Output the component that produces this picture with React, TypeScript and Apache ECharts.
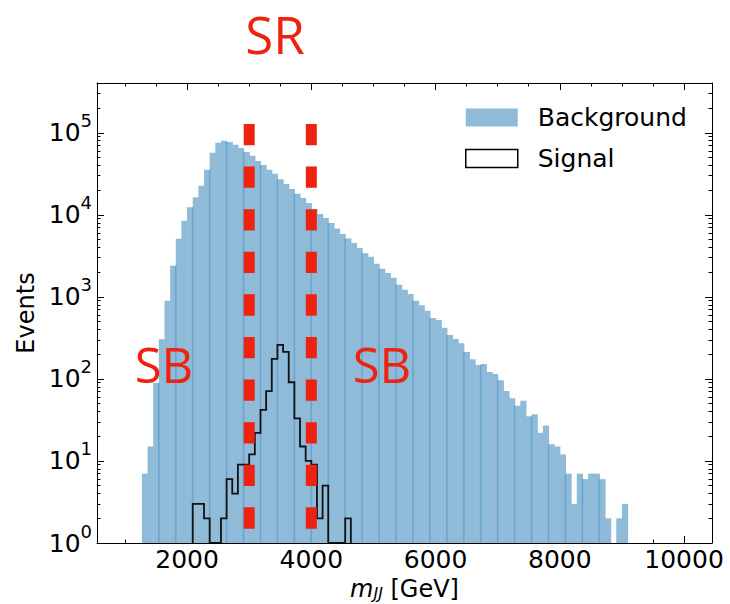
import React, { useEffect, useRef } from "react";
import * as echarts from "echarts";

// ---------- data ----------
const binLow = 1000;
const binHigh = 10000;
const binCount = 99;

// background histogram: counts of consecutive bins starting at bin index 3
const backgroundFirstBin = 3;
const backgroundCounts = [
  7, 15, 90, 305, 894, 2390, 5100, 8450, 12400, 16400,
  22600, 35400, 57000, 75500, 79800, 77000, 71400, 65000, 58200, 52500,
  45200, 40400, 35400, 31600, 27200, 23700, 20600, 18000, 16000, 13900,
  11700, 10200, 9120, 7920, 6790, 5830, 5130, 4530, 3940, 3410,
  3080, 2530, 2200, 1950, 1710, 1400, 1220, 1080, 894, 792,
  675, 554, 524, 419, 344, 307, 272, 213, 174, 148,
  152, 121, 115, 96, 71, 58, 47, 54, 35, 37,
  22, 27, 16, 15, 12, 7, 3, 7, 6, 7,
  7, 6, 2, 0, 2, 3,
];

// signal histogram: counts of consecutive bins starting at bin index 12
const signalFirstBin = 12;
const signalCounts = [
  3, 3, 2, 0, 0, 2, 6, 4, 9, 9, 12, 22, 42, 71, 175, 260, 213, 91, 33, 15,
  10, 9, 2, 5, 0, 0, 0, 2,
];

const srBoundaries = [3000, 4000];
const srLineTop = 1.28e5;

const xRange = [550, 10450];
const yRange = [1, 4.04e5];
const xMajorTicks = [2000, 4000, 6000, 8000, 10000];
const xMinorTicks = [1000, 1500, 2500, 3000, 3500, 4500, 5000, 5500, 6500, 7000, 7500, 8500, 9000, 9500];
const yMajorTicks = [1, 10, 100, 1000, 10000, 100000];
const yMinorTicks = [
  2, 3, 4, 5, 6, 7, 8, 9,
  20, 30, 40, 50, 60, 70, 80, 90,
  200, 300, 400, 500, 600, 700, 800, 900,
  2000, 3000, 4000, 5000, 6000, 7000, 8000, 9000,
  20000, 30000, 40000, 50000, 60000, 70000, 80000, 90000,
  200000, 300000, 400000,
];

// ---------- styles ----------
const FONT = "DejaVu Sans";
const BAR_FILL = "#8fbbd9";
const STRIPE = "rgba(31,119,180,0.32)";
const RED = "#ee2211";

const binWidth = (binHigh - binLow) / binCount;
const edge = (i: number) => binLow + i * binWidth;

function buildOption(): any {
  const bgData = backgroundCounts.map((c, k) => [
    edge(backgroundFirstBin + k),
    edge(backgroundFirstBin + k + 1),
    c,
    backgroundFirstBin + k,
  ]);

  const axisCommonX = (position: string) => ({
    type: "value",
    min: xRange[0],
    max: xRange[1],
    position,
    splitLine: { show: false },
  });
  const axisCommonY = (position: string) => ({
    type: "log",
    logBase: 10,
    min: yRange[0],
    max: yRange[1],
    position,
    splitLine: { show: false },
  });

  const redText = (text: string, x: number, y: number, size: number) => ({
    type: "text",
    x,
    y,
    z: 10,
    style: {
      text,
      fontSize: size,
      fontFamily: "Open Sans",
      lineHeight: size,
      fill: RED,
      align: "center",
      verticalAlign: "middle",
      textAlign: "center",
      textVerticalAlign: "middle",
    },
  });

  return {
    animation: false,
    backgroundColor: "#ffffff",
    grid: {
      left: 97,
      right: 18,
      top: 83,
      bottom: 61,
      containLabel: false,
      outerBoundsMode: "none",
    },
    legend: {
      show: true,
      orient: "vertical",
      left: 465,
      top: 105,
      padding: 0,
      itemWidth: 52,
      itemHeight: 18,
      itemGap: 16,
      selectedMode: false,
      textStyle: { fontSize: 25, color: "#000", fontFamily: FONT, padding: [0, 0, 0, 15] },
      data: [
        { name: "Background", icon: "rect", itemStyle: { color: BAR_FILL, borderWidth: 0 } },
        { name: "Signal", icon: "rect", itemStyle: { color: "#ffffff", borderColor: "#000", borderWidth: 1.5 } },
      ],
    },
    xAxis: [
      {
        ...axisCommonX("bottom"),
        axisLine: { show: true, onZero: false, lineStyle: { color: "#000", width: 1 } },
        axisTick: { show: true, inside: true, length: 7, customValues: xMajorTicks, lineStyle: { color: "#000", width: 1 } },
        axisLabel: {
          show: true,
          customValues: xMajorTicks,
          fontSize: 25,
          color: "#000",
          fontFamily: FONT,
          margin: 4,
          formatter: (v: number) => String(v),
        },
        name: "{i|m}{s|JJ}{r| [GeV]}",
        nameLocation: "middle",
        nameGap: 31,
        nameTextStyle: {
          color: "#000",
          fontFamily: FONT,
          fontSize: 24,
          rich: {
            i: { fontStyle: "italic", fontSize: 24, lineHeight: 26, fontFamily: FONT, color: "#000" },
            s: { fontStyle: "italic", fontSize: 16, lineHeight: 8, verticalAlign: "bottom", fontFamily: FONT, color: "#000" },
            r: { fontSize: 24, lineHeight: 26, fontFamily: FONT, color: "#000" },
          },
        },
      },
      {
        ...axisCommonX("bottom"),
        axisLine: { show: false, onZero: false },
        axisTick: { show: true, inside: true, length: 3.5, customValues: xMinorTicks, lineStyle: { color: "#000", width: 1 } },
        axisLabel: { show: false },
      },
      {
        ...axisCommonX("top"),
        axisLine: { show: true, onZero: false, lineStyle: { color: "#000", width: 1 } },
        axisTick: { show: true, inside: true, length: 7, customValues: xMajorTicks, lineStyle: { color: "#000", width: 1 } },
        axisLabel: { show: false },
      },
      {
        ...axisCommonX("top"),
        axisLine: { show: false, onZero: false },
        axisTick: { show: true, inside: true, length: 3.5, customValues: xMinorTicks, lineStyle: { color: "#000", width: 1 } },
        axisLabel: { show: false },
      },
    ],
    yAxis: [
      {
        ...axisCommonY("left"),
        axisLine: { show: true, onZero: false, lineStyle: { color: "#000", width: 1 } },
        axisTick: { show: true, inside: true, length: 7, customValues: yMajorTicks, lineStyle: { color: "#000", width: 1 } },
        axisLabel: {
          show: true,
          customValues: yMajorTicks,
          margin: 5,
          color: "#000",
          fontFamily: FONT,
          fontSize: 25,
          formatter: (v: number) => "{b|10}{p|" + String(Math.round(Math.log10(v))) + "}",
          rich: {
            b: { fontSize: 25, lineHeight: 42, fontFamily: FONT, color: "#000" },
            p: { fontSize: 18, lineHeight: 18, verticalAlign: "top", fontFamily: FONT, color: "#000" },
          },
        },
        name: "Events",
        nameLocation: "middle",
        nameGap: 58,
        nameTextStyle: { color: "#000", fontFamily: FONT, fontSize: 24 },
      },
      {
        ...axisCommonY("left"),
        axisLine: { show: false, onZero: false },
        axisTick: { show: true, inside: true, length: 3.5, customValues: yMinorTicks, lineStyle: { color: "#000", width: 1 } },
        axisLabel: { show: false },
      },
      {
        ...axisCommonY("right"),
        axisLine: { show: true, onZero: false, lineStyle: { color: "#000", width: 1 } },
        axisTick: { show: true, inside: true, length: 7, customValues: yMajorTicks, lineStyle: { color: "#000", width: 1 } },
        axisLabel: { show: false },
      },
      {
        ...axisCommonY("right"),
        axisLine: { show: false, onZero: false },
        axisTick: { show: true, inside: true, length: 3.5, customValues: yMinorTicks, lineStyle: { color: "#000", width: 1 } },
        axisLabel: { show: false },
      },
    ],
    series: [
      {
        name: "Background",
        type: "custom",
        xAxisIndex: 0,
        yAxisIndex: 0,
        z: 2,
        silent: true,
        clip: true,
        itemStyle: { color: BAR_FILL },
        encode: { x: [0, 1], y: 2 },
        data: bgData,
        renderItem: (params: any, api: any) => {
          const lo = api.value(0);
          const hi = api.value(1);
          const c = api.value(2);
          const bin = api.value(3);
          const children: any[] = [];
          if (c > 1) {
            const tl = api.coord([lo, c]);
            const br = api.coord([hi, 1]);
            children.push({
              type: "rect",
              shape: { x: tl[0], y: tl[1], width: br[0] - tl[0] + 0.6, height: br[1] - tl[1] },
              style: { fill: BAR_FILL },
            });
            const prev = backgroundCounts[params.dataIndex - 1] ?? 0;
            if (bin % 3 === 0 && prev > 1) {
              const p = api.coord([lo, Math.min(c, prev)]);
              children.push({
                type: "line",
                shape: { x1: tl[0], y1: p[1], x2: tl[0], y2: br[1] },
                style: { stroke: STRIPE, lineWidth: 1.6 },
              });
            }
          }
          return { type: "group", children };
        },
      },
      {
        name: "Signal",
        type: "custom",
        xAxisIndex: 0,
        yAxisIndex: 0,
        z: 3,
        silent: true,
        clip: true,
        itemStyle: { color: "#ffffff", borderColor: "#000" },
        encode: { x: 0, y: 1 },
        data: [[edge(signalFirstBin), 1]],
        renderItem: (_params: any, api: any) => {
          const pts: number[][] = [];
          const yv = (c: number) => Math.max(c, 1);
          pts.push(api.coord([edge(signalFirstBin), 1]));
          signalCounts.forEach((c, k) => {
            pts.push(api.coord([edge(signalFirstBin + k), yv(c)]));
            pts.push(api.coord([edge(signalFirstBin + k + 1), yv(c)]));
          });
          pts.push(api.coord([edge(signalFirstBin + signalCounts.length), 1]));
          return {
            type: "polyline",
            shape: { points: pts },
            style: { stroke: "#111", lineWidth: 1.8, fill: "none" },
          };
        },
      },
      ...srBoundaries.map((xv, i) => ({
        name: "SR boundary " + (i + 1),
        type: "line",
        xAxisIndex: 0,
        yAxisIndex: 0,
        z: 5,
        silent: true,
        symbol: "none",
        data: [
          [xv, srLineTop],
          [xv, 1],
        ],
        lineStyle: { color: RED, width: 11, type: [21.3, 21.3], cap: "butt" },
      })),
    ],
    graphic: [
      redText("SR", 275, 34, 51),
      redText("SB", 164, 364, 49),
      redText("SB", 382, 364, 49),
    ],
  };
}

export default function App() {
  const ref = useRef<HTMLDivElement>(null);
  useEffect(() => {
    if (!ref.current) return;
    const chart = echarts.init(ref.current, undefined, { renderer: "svg" });
    chart.setOption(buildOption());
    return () => {
      chart.dispose();
    };
  }, []);
  return (
    <div
      ref={ref}
      style={{ position: "absolute", left: 0, top: 0, width: 730, height: 604, background: "#fff" }}
    />
  );
}
